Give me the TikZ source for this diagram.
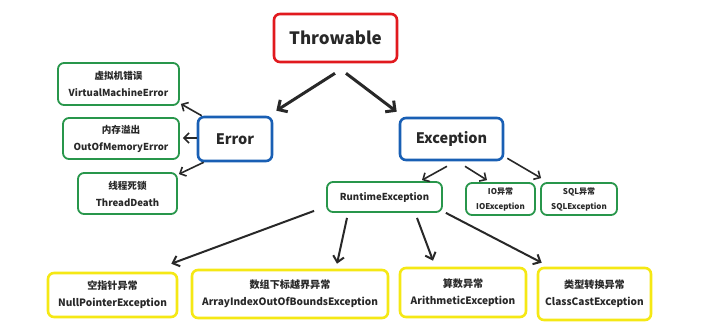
\documentclass[tikz,border=0pt]{standalone}
\usepackage{fontspec}
\setmainfont{Noto Sans CJK SC}
\usetikzlibrary{calc,arrows.meta}

\definecolor{rootred}{RGB}{225,25,30}
\definecolor{midblue}{RGB}{25,95,180}
\definecolor{leafgreen}{RGB}{40,150,75}
\definecolor{runyellow}{RGB}{245,232,20}
\definecolor{ink}{RGB}{40,40,40}

\tikzset{
  box/.style={draw, rounded corners=6pt, fill=white, text=ink, align=center,
    inner sep=0pt, font=\bfseries},
  rootbox/.style={box, draw=rootred, line width=2.6pt, font=\bfseries\fontsize{17}{20}\selectfont},
  midbox/.style={box, draw=midblue, line width=2.6pt, font=\bfseries\fontsize{14.5}{18}\selectfont},
  leafbox/.style={box, draw=leafgreen, line width=1.8pt, font=\bfseries\fontsize{9.6}{17}\selectfont},
  smallbox/.style={box, draw=leafgreen, line width=1.8pt, font=\bfseries\fontsize{8}{15}\selectfont},
  rtbox/.style={box, draw=runyellow, line width=2.6pt, font=\bfseries\fontsize{10.1}{17}\selectfont},
  bigarrow/.style={draw=ink, line width=3pt, -{Straight Barb[length=7pt,width=14pt,line width=3pt]}},
  arrow/.style={draw=ink, line width=1.6pt, -{Straight Barb[length=5pt,width=10pt,line width=1.6pt]}},
  lowarrow/.style={draw=ink, line width=2pt, -{Straight Barb[length=6pt,width=11pt,line width=2pt]}},
}

\begin{document}
\begin{tikzpicture}[x=1pt,y=-1pt]
\useasboundingbox (0,0) rectangle (716,333);

% root of the hierarchy
\node[rootbox, minimum width=123pt, minimum height=48pt] (thr) at (335.5,38) {Throwable};

% the two direct subclasses
\node[midbox, minimum width=74pt, minimum height=44pt] (err) at (235,139) {Error};
\node[midbox, minimum width=103pt, minimum height=42pt] (exc) at (451.5,139) {Exception};

% errors
\node[leafbox, minimum width=121pt, minimum height=42pt] (vm) at (118.5,84) {虚拟机错误\\VirtualMachineError};
\node[leafbox, minimum width=116pt, minimum height=41pt] (oom) at (121,138.5) {内存溢出\\OutOfMemoryError};
\node[leafbox, minimum width=99pt, minimum height=41pt] (td) at (127.5,193.5) {线程死锁\\ThreadDeath};

% exceptions
\node[leafbox, minimum width=115pt, minimum height=30pt] (rt) at (384.5,197) {RuntimeException};
\node[smallbox, minimum width=69pt, minimum height=32pt] (io) at (500.5,199) {IO异常\\IOException};
\node[smallbox, minimum width=76pt, minimum height=32pt] (sql) at (579,199) {SQL异常\\SQLException};

% runtime exceptions
\node[rtbox, minimum width=129pt, minimum height=44pt] (np) at (112.5,295) {空指针异常\\NullPointerException};
\node[rtbox, minimum width=196pt, minimum height=48pt] (arr) at (290,294) {数组下标越界异常\\ArrayIndexOutOfBoundsException};
\node[rtbox, minimum width=126pt, minimum height=49pt] (ari) at (463,292.5) {算数异常\\ArithmeticException};
\node[rtbox, minimum width=113pt, minimum height=52pt] (cc) at (594.5,294) {类型转换异常\\ClassCastException};

% inheritance arrows
\draw[bigarrow] ($(thr.south)+(-0.5,10)$) -- ($(err.north east)+(3,-5)$);
\draw[bigarrow] ($(thr.south)+(10.5,10)$) -- ($(exc.north west)+(-2,-5)$);

\draw[arrow] ($(err.north west)+(5,0)$) -- ($(vm.south east)+(1,-2)$);
\draw[arrow] ($(err.west)+(0,-1)$) -- ($(oom.east)+(3,-0.5)$);
\draw[arrow] ($(err.south west)+(7,0)$) -- ($(td.north east)+(1,2)$);

\draw[arrow] ($(exc.south)+(-4.5,5)$) -- ($(rt.north)+(37.5,-1)$);
\draw[arrow] ($(exc.south)+(13.5,5)$) -- ($(io.north)+(-13.5,-2)$);
\draw[arrow] ($(exc.south east)+(3,-3)$) -- ($(sql.north west)+(1,-4)$);

\draw[lowarrow] ($(rt.south west)+(-12,-2)$) -- ($(np.north east)+(-7,-8)$);
\draw[lowarrow] ($(rt.south)+(-37.5,5)$) -- ($(arr.north)+(47,-5)$);
\draw[lowarrow] ($(rt.south)+(32.5,5)$) -- ($(ari.north)+(-30,-6)$);
\draw[lowarrow] ($(rt.south east)+(3,0)$) -- ($(cc.north west)+(5,-4)$);
\end{tikzpicture}
\end{document}
